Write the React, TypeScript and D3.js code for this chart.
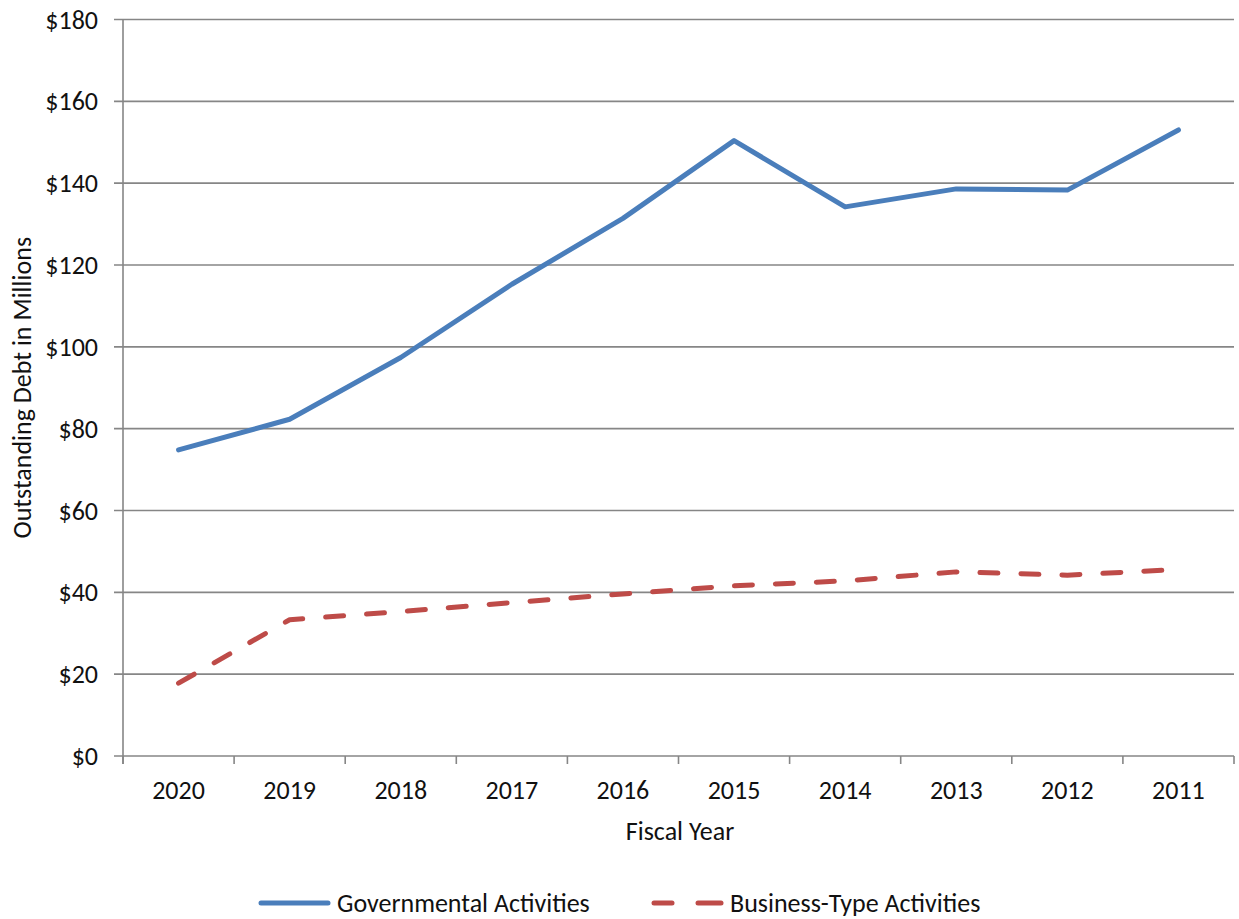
import React from "react";
import * as d3 from "d3";

// Fiscal years, most recent first
const years = ["2020", "2019", "2018", "2017", "2016", "2015", "2014", "2013", "2012", "2011"];
// Outstanding debt, $ millions
const governmental = [74.8, 82.3, 97.4, 115.3, 131.4, 150.4, 134.2, 138.6, 138.3, 153.0];
const businessType = [17.8, 33.3, 35.3, 37.5, 39.6, 41.6, 42.8, 45.0, 44.2, 45.6];
const yTicks = [0, 20, 40, 60, 80, 100, 120, 140, 160, 180];

const W = 1239;
const H = 919;
const left = 123;
const right = 1234;
const top = 19.5;
const bottom = 756;
const FONT = "Carlito, Calibri, Lato, sans-serif";
const FS = 26;
const GRID = "#868686";
const BLUE = "#4A7EBB";
const RED = "#BE4B48";
const INK = "#111";

export default function App() {
  const x = d3.scaleBand<string>().domain(years).range([left, right]).padding(0);
  const y = d3.scaleLinear().domain([0, 180]).range([bottom, top]);
  const cx = (d: string) => (x(d) as number) + x.bandwidth() / 2;

  const line = d3
    .line<number>()
    .x((_, i) => cx(years[i]))
    .y((v) => y(v));

  const bounds = years.map((d) => x(d) as number).concat([right]);

  return (
    <svg
      width={W}
      height={H}
      style={{ position: "absolute", left: 0, top: 0, background: "#fff" }}
      fontFamily={FONT}
    >
      {/* horizontal gridlines with left tick marks */}
      {yTicks.map((t) => (
        <g key={t}>
          <line x1={114} x2={right} y1={y(t)} y2={y(t)} stroke={GRID} strokeWidth={1.6} />
          <text
            x={98}
            y={y(t)}
            textAnchor="end"
            dominantBaseline="central"
            fontSize={FS}
            fill={INK}
          >
            {"$" + t}
          </text>
        </g>
      ))}
      {/* value axis */}
      <line x1={left} x2={left} y1={top} y2={bottom + 8} stroke={GRID} strokeWidth={1.6} />
      {/* category tick marks */}
      {bounds.map((b, i) => (
        <line key={i} x1={b} x2={b} y1={bottom} y2={bottom + 8} stroke={GRID} strokeWidth={1.6} />
      ))}
      {years.map((d) => (
        <text
          key={d}
          x={cx(d)}
          y={790}
          textAnchor="middle"
          dominantBaseline="central"
          fontSize={FS}
          fill={INK}
        >
          {d}
        </text>
      ))}

      {/* series */}
      <path
        d={line(governmental) as string}
        fill="none"
        stroke={BLUE}
        strokeWidth={5}
        strokeLinejoin="round"
        strokeLinecap="round"
      />
      <path
        d={line(businessType) as string}
        fill="none"
        stroke={RED}
        strokeWidth={5}
        strokeLinejoin="round"
        strokeLinecap="round"
        strokeDasharray="18 23"
      />

      {/* axis titles */}
      <text
        x={680}
        y={831}
        textAnchor="middle"
        dominantBaseline="central"
        fontSize={FS}
        fill={INK}
      >
        Fiscal Year
      </text>
      <text
        transform={`translate(22,${(top + bottom) / 2}) rotate(-90)`}
        textAnchor="middle"
        dominantBaseline="central"
        fontSize={FS}
        fill={INK}
      >
        Outstanding Debt in Millions
      </text>

      {/* legend */}
      <line x1={261} x2={328} y1={903} y2={903} stroke={BLUE} strokeWidth={5} strokeLinecap="round" />
      <text x={337} y={903} dominantBaseline="central" fontSize={FS} fill={INK}>
        Governmental Activities
      </text>
      <line x1={654} x2={672} y1={903} y2={903} stroke={RED} strokeWidth={5} strokeLinecap="round" />
      <line x1={698} x2={721} y1={903} y2={903} stroke={RED} strokeWidth={5} strokeLinecap="round" />
      <text x={730} y={903} dominantBaseline="central" fontSize={FS} fill={INK}>
        Business-Type Activities
      </text>
    </svg>
  );
}
